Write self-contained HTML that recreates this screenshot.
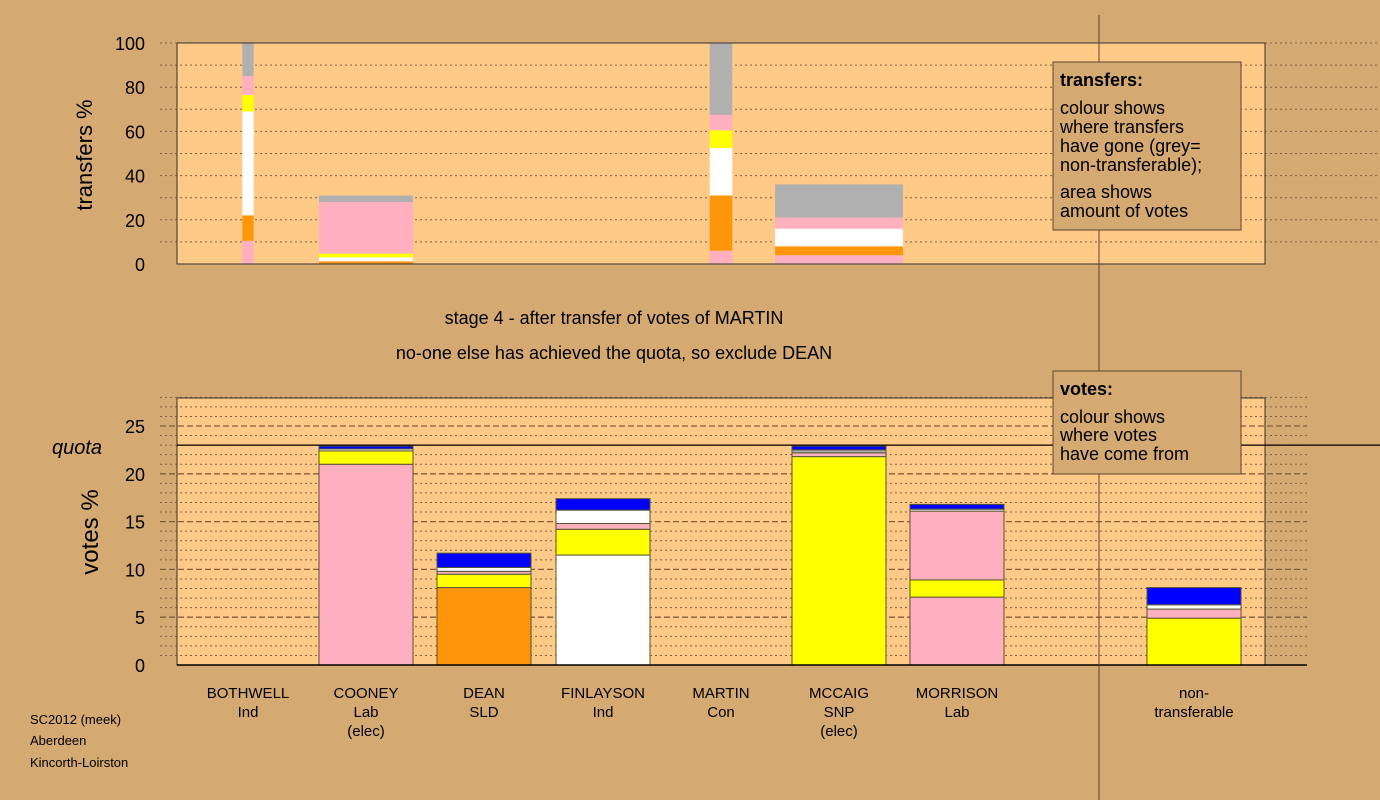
<!DOCTYPE html>
<html><head><meta charset="utf-8"><style>
body{margin:0;background:#D4A972;}
svg{display:block;font-family:"Liberation Sans",sans-serif;}
</style></head><body>
<svg id="c" width="1380" height="800">
<rect width="1380" height="800" fill="#D4A972"/>
<g id="top"></g><g id="bot"></g>
<line x1="1099" y1="15" x2="1099" y2="800" stroke="#5a4630" stroke-width="1"/>
<text x="92" y="155" font-size="22" transform="rotate(-90 92 155)" text-anchor="middle">transfers %</text>
<text x="98" y="532" font-size="24" transform="rotate(-90 98 532)" text-anchor="middle">votes %</text>
<text x="614" y="324" font-size="18" text-anchor="middle">stage 4 - after transfer of votes of MARTIN</text>
<text x="614" y="359" font-size="18" text-anchor="middle">no-one else has achieved the quota, so exclude DEAN</text>
<g>
<rect x="1053" y="62" width="188" height="168" fill="#D4A972" stroke="#5a4630"/>
<text x="1060" y="86" font-size="18" font-weight="bold">transfers:</text>
<text font-size="18"><tspan x="1060" y="114">colour shows</tspan><tspan x="1060" y="133">where transfers</tspan><tspan x="1060" y="152">have gone (grey=</tspan><tspan x="1060" y="171">non-transferable);</tspan><tspan x="1060" y="198">area shows</tspan><tspan x="1060" y="217">amount of votes</tspan></text>
</g>
<g>
<rect x="1053" y="371" width="188" height="103" fill="#D4A972" stroke="#5a4630"/>
<text x="1060" y="395" font-size="18" font-weight="bold">votes:</text>
<text font-size="18"><tspan x="1060" y="423">colour shows</tspan><tspan x="1060" y="441">where votes</tspan><tspan x="1060" y="460">have come from</tspan></text>
</g>
<text font-size="13"><tspan x="30" y="724">SC2012 (meek)</tspan><tspan x="30" y="745">Aberdeen</tspan><tspan x="30" y="767">Kincorth-Loirston</tspan></text>
</svg>
<script>
const NS="http://www.w3.org/2000/svg";
const C={pink:"#FFB0C0",orange:"#FF960A",white:"#FFFFFF",yellow:"#FFFF00",grey:"#B0B0B0",blue:"#0000FF"};
// bottom chart data
const candidates=["BOTHWELL|Ind","COONEY|Lab|(elec)","DEAN|SLD","FINLAYSON|Ind","MARTIN|Con","MCCAIG|SNP|(elec)","MORRISON|Lab","non-|transferable"];
const voteColors=[[],["pink","yellow","white","blue"],["orange","yellow","pink","white","blue"],["white","yellow","pink","white","blue"],[],["yellow","pink","grey","blue"],["pink","yellow","pink","white","blue"],["yellow","pink","white","blue"]];
const voteValues=[[],[21.0,1.4,0.2,0.3],[8.1,1.4,0.3,0.4,1.5],[11.5,2.7,0.6,1.4,1.2],[],[21.8,0.4,0.3,0.4],[7.1,1.8,7.2,0.2,0.5],[4.9,0.95,0.45,1.8]];
const quota=23;
const yTicks=[0,5,10,15,20,25];
// top chart data
const transferCols=[0,1,4,5];
const transferWidthFrac=[0.12,1,0.24,1.36];
const transferColors=[["pink","orange","white","yellow","pink","grey"],["orange","white","yellow","pink","grey"],["pink","orange","white","yellow","pink","grey"],["pink","orange","white","pink","grey"]];
const transferValues=[[10.5,11.5,47,7.5,8.5,15],[1.2,1.8,1.7,23.3,3],[6,25,21.5,8,7,32.5],[4,4,8,5,15]];
const topTicks=[0,20,40,60,80,100];

function el(t,a,p){const e=document.createElementNS(NS,t);for(const k in a)e.setAttribute(k,a[k]);p.appendChild(e);return e;}
const xs=[248,366,484,603,721,839,957,1194];
const bw=94;
// top
const T=document.getElementById('top');
const ty=v=>264-v*2.21;
el('rect',{x:177,y:43,width:1088,height:221,fill:"#FFC987"},T);
for(let v=10;v<=100;v+=10){const l=el('line',{x1:160,x2:1380,y1:ty(v),y2:ty(v),stroke:"#806040","stroke-dasharray":"2,3","stroke-width":1},T);
}
transferCols.forEach((ci,i)=>{let acc=0;const w=bw*transferWidthFrac[i];
transferValues[i].forEach((v,j)=>{const r=el('rect',{x:xs[ci]-w/2,y:ty(acc+v),width:w,height:v*2.21,fill:C[transferColors[i][j]]},T);
acc+=v;});});
el('rect',{x:177,y:43,width:1088,height:221,fill:"none",stroke:"#333"},T);
topTicks.forEach(v=>{const t=el('text',{x:145,y:ty(v)+7,"font-size":18,"text-anchor":"end"},T);t.textContent=v;
});
// bottom
const B=document.getElementById('bot');
const by=v=>665-v*9.56;
el('rect',{x:177,y:398,width:1088,height:267,fill:"#FFC987"},B);
for(let v=1;v<=28;v++){const d=v%5===0;const l=el('line',{x1:160,x2:1307,y1:by(v),y2:by(v),stroke:"#806040","stroke-dasharray":d?"6,3":"2,3","stroke-width":d?1.3:1},B);
}
voteValues.forEach((arr,i)=>{let acc=0;arr.forEach((v,j)=>{const r=el('rect',{x:xs[i]-bw/2,y:by(acc+v),width:bw,height:v*9.56,fill:C[voteColors[i][j]],stroke:"#553",'stroke-width':1},B);
acc+=v;});});
el('rect',{x:177,y:398,width:1088,height:267,fill:"none",stroke:"#333"},B);
el('line',{x1:177,x2:1307,y1:665,y2:665,stroke:"#000","stroke-width":1.5},B);
const q=el('line',{x1:177,x2:1380,y1:by(quota),y2:by(quota),stroke:"#000","stroke-width":1.2},B);

const qt=el('text',{x:52,y:by(quota)+9,"font-size":20,"font-style":"italic"},B);qt.textContent="quota";

yTicks.forEach(v=>{const t=el('text',{x:145,y:by(v)+7,"font-size":18,"text-anchor":"end"},B);t.textContent=v;
});
candidates.forEach((c,i)=>{c.split('|').forEach((s,k)=>{const t=el('text',{x:xs[i],y:698+k*19,"font-size":15,"text-anchor":"middle"},B);t.textContent=s;
});});
</script>
</body></html>
